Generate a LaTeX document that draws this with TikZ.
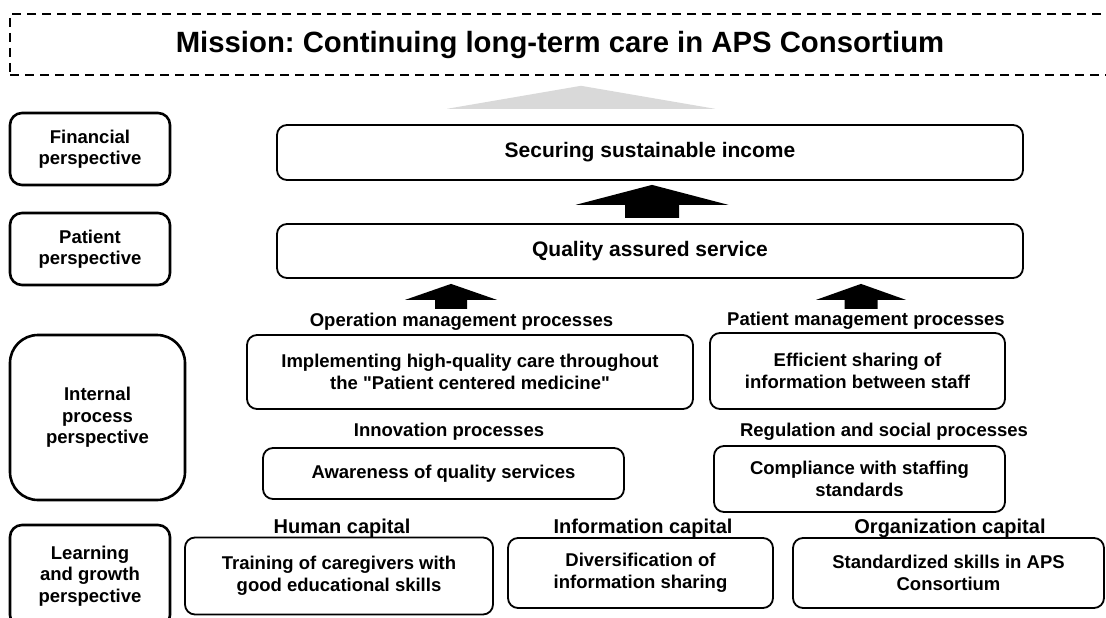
\documentclass[tikz,border=0pt]{standalone}
\usepackage{fontspec}
\setmainfont{Liberation Sans}
\usepackage{tikz}
\usetikzlibrary{positioning}
\tikzstyle{persp} = [draw,line width=2.6pt,rounded corners=12pt,align=center,minimum width=160pt,minimum height=72pt,font=\fontsize{18.5}{21.5}\selectfont\bfseries]
\tikzstyle{goal} = [draw,line width=1.8pt,rounded corners=10pt,fill=white,align=center,font=\fontsize{18.5}{21.5}\selectfont\bfseries]
\tikzstyle{biggoal} = [goal,font=\fontsize{21}{24}\selectfont\bfseries]
\tikzstyle{proc} = [inner sep=0pt,font=\fontsize{18.5}{21.5}\selectfont\bfseries]
\tikzstyle{capital} = [inner sep=0pt,font=\fontsize{20}{24}\selectfont\bfseries]
\tikzset{
	pics/blockup/.style args={#1/#2/#3/#4}{code={
		\fill (0,0) -- (#1,#3) -- (#2,#3) -- (#2,#3+#4) -- (-#2,#3+#4) -- (-#2,#3) -- (-#1,#3) -- cycle;
	}}
}
\frenchspacing

\begin{document}
\begin{tikzpicture}[x=1pt,y=-1pt]
	\useasboundingbox (0,0) rectangle (1106,618);
	
	%Mission
	\node (mission) [draw,line width=1.6pt,dash pattern=on 9pt off 6pt,minimum width=1100pt,minimum height=61pt,font=\fontsize{29.3}{32}\selectfont\bfseries] at (560,44.5) {Mission: Continuing long-term care in APS Consortium};
	
	%Perspectives
	\node (fin) [persp] at (90,149) {Financial\\perspective};
	\node (pat) [persp] at (90,249) {Patient\\perspective};
	\node (intl) [persp,rounded corners=28pt,minimum width=175pt,minimum height=165pt] at (97.5,417.5) {Internal\\process\\perspective};
	\node (learn) [persp,minimum height=102pt] at (90,576) {Learning\\and growth\\perspective};
	
	%Objectives
	\node (secure) [biggoal,minimum width=746pt,minimum height=55pt] at (650,152.5) {Securing sustainable income};
	\node (quality) [biggoal,minimum width=746pt,minimum height=54pt] at (650,251) {Quality assured service};
	\node (impl) [goal,minimum width=446pt,minimum height=74pt] at (470,372) {Implementing high-quality care throughout\\the \textquotedbl Patient centered medicine\textquotedbl};
	\node (share) [goal,minimum width=295pt,minimum height=76pt] at (857.5,371) {Efficient sharing of\\information between staff};
	\node (aware) [goal,minimum width=361pt,minimum height=51pt] at (443.5,473.5) {Awareness of quality services};
	\node (comply) [goal,minimum width=291pt,minimum height=66pt] at (859.5,479) {Compliance with staffing\\standards};
	\node (train) [goal,minimum width=308pt,minimum height=77pt] at (339,576) {Training of caregivers with\\good educational skills};
	\node (divers) [goal,minimum width=265pt,minimum height=70pt] at (640.5,573) {Diversification of\\information sharing};
	\node (stdskill) [goal,minimum width=311pt,minimum height=70pt] at (948.5,573) {Standardized skills in APS\\Consortium};
	
	%Process labels
	\node (opmgmt) [proc,above=3pt of impl,xshift=-8.5pt] {Operation management processes};
	\node (patmgmt) [proc,above=2pt of share,xshift=8.5pt] {Patient management processes};
	\node (innov) [proc,above=7pt of aware,xshift=5.5pt] {Innovation processes};
	\node (regul) [proc,above=4pt of comply,xshift=24.5pt] {Regulation and social processes};
	\node (human) [capital,above=-1pt of train,xshift=3pt] {Human capital};
	\node (infocap) [capital,above=-1pt of divers,xshift=2.5pt] {Information capital};
	\node (orgcap) [capital,above=-1pt of stdskill,xshift=1.5pt] {Organization capital};
	
	%Arrows
	\pic[black!15] at ([xshift=21pt,yshift=-10pt]mission.south) {blockup=134/0/23/0};
	\pic at ([xshift=2pt,yshift=-4pt]secure.south) {blockup=76.5/27/20/13};
	\pic at ([xshift=-199pt,yshift=-5pt]quality.south) {blockup=46/16/16/9};
	\pic at ([xshift=211pt,yshift=-5pt]quality.south) {blockup=45/16.5/16/9};
	
\end{tikzpicture}
\end{document}
